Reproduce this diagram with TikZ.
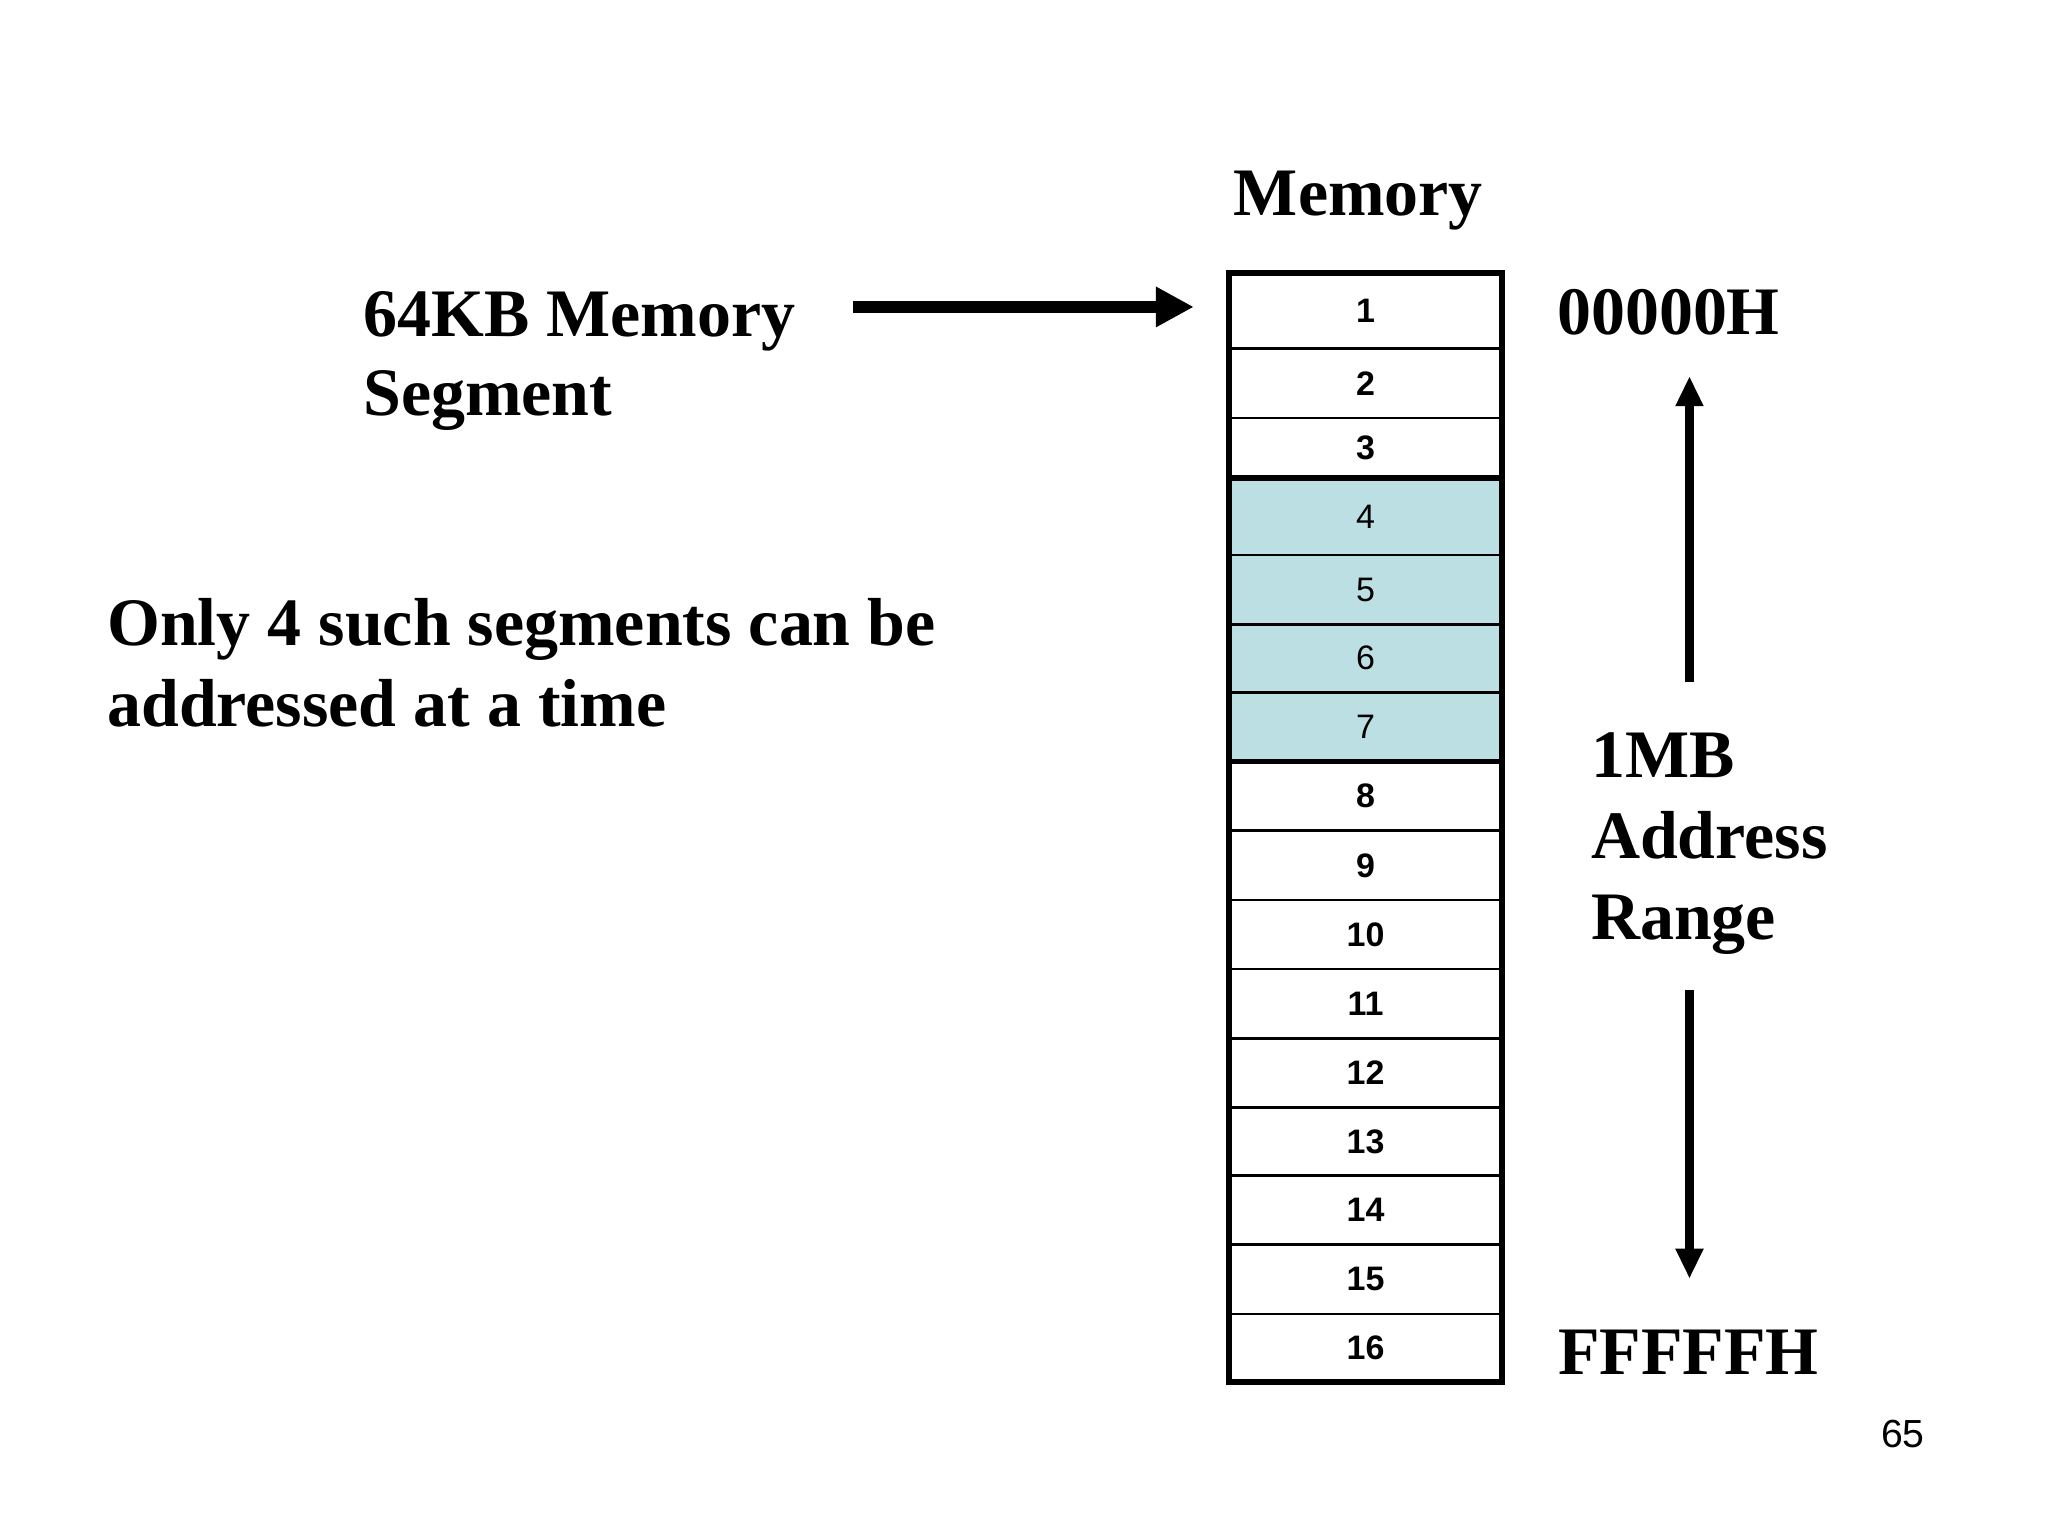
\documentclass[tikz,border=0pt]{standalone}
\usepackage{fontspec}
\setmainfont{Liberation Serif}
\newfontfamily\arialfont{Liberation Sans}
\usetikzlibrary{arrows.meta}
\definecolor{segfill}{RGB}{187,223,226}
\begin{document}
\begin{tikzpicture}[x=1pt,y=-1pt,
  big/.style={font=\fontsize{52}{62}\selectfont\bfseries, inner sep=0pt, align=left, anchor=base west},
  cellbox/.style={draw, line width=2pt, minimum width=209pt, inner sep=0pt, outer sep=0pt,
                  font=\arialfont\fontsize{26}{30}\selectfont},
  fatarrow/.style={line width=9pt, -{Triangle[length=29pt,width=29pt]}},
  rangearrow/.style={line width=7pt, -{Triangle[length=23pt,width=20pt]}}]
\fill[white] (0,0) rectangle (1568,1176);
\useasboundingbox (0,0) rectangle (1568,1176);

% memory cells
\foreach \i/\t/\b in {1/209/267, 2/267/320, 3/320/366, 8/583/636, 9/636/689,
  10/689/742, 11/742/795, 12/795/848, 13/848/900, 14/900/953, 15/953/1006, 16/1006/1058}
  \node[cellbox, font=\arialfont\fontsize{26}{30}\selectfont\bfseries,
        minimum height={(\b-\t)*1pt}] (c\i) at (1045.5,{(\t+\b)/2}) {\i};
\foreach \i/\t/\b in {4/366/425, 5/425/478, 6/478/530, 7/530/583}
  \node[cellbox, fill=segfill, minimum height={(\b-\t)*1pt}] (c\i) at (1045.5,{(\t+\b)/2}) {\i};

\draw[line width=4pt] (c4.north west) -- (c4.north east);
\draw[line width=4pt] (c7.south west) -- (c7.south east);
\draw[line width=4.5pt] (c1.north west) rectangle (c16.south east);

% texts (base anchor of a multi-line node is the baseline of its last line)
\node[big, anchor=base] (title) at (1040,165) {Memory};
\node[big, font=\fontsize{52}{60}\selectfont\bfseries] (seg) at (278,318) {64KB Memory\\Segment};
\node[big] (only) at (82,556) {Only 4 such segments can be\\addressed at a time};
\node[big] (low) at (1192,256) {00000H};
\node[big] (range) at (1218,719) {1MB\\Address\\Range};
\node[big] (high) at (1193,1052) {FFFFFH};
\node[inner sep=0pt, anchor=base west, font=\arialfont\fontsize{30}{36}\selectfont] (page) at (1440,1108) {65};

% arrows
\coordinate (hs) at (653,235);
\coordinate (he) at (914,235);
\draw[fatarrow] (hs) -- (he);
\coordinate (us) at (1293.5,522);
\coordinate (ue) at (1293.5,288);
\draw[rangearrow] (us) -- (ue);
\coordinate (ds) at (1293.5,758);
\coordinate (de) at (1293.5,979);
\draw[rangearrow] (ds) -- (de);
\end{tikzpicture}
\end{document}
